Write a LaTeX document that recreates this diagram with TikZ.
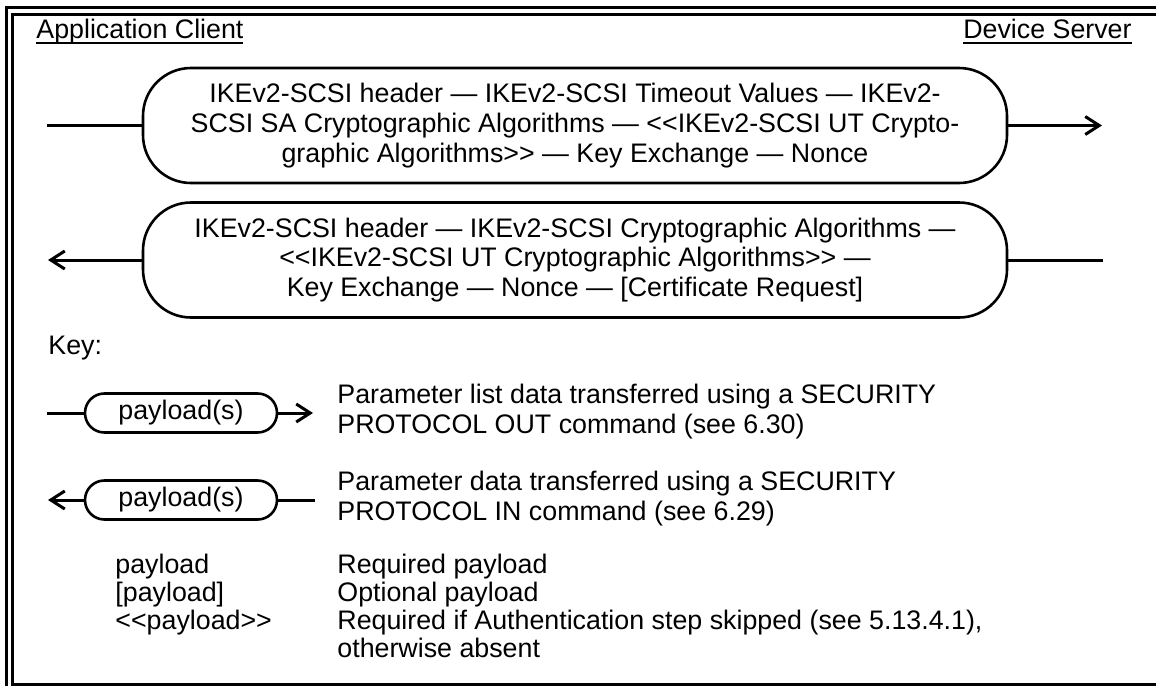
\documentclass[tikz,border=0pt]{standalone}
\usepackage{fontspec}
\setmainfont{Liberation Sans}
\usetikzlibrary{arrows.meta}
\newcommand\ulbox[1]{\setbox0\hbox{#1}\rlap{\rule[-2.6pt]{\wd0}{1pt}}\box0}
\newcommand\dlt{<\kern0pt<}
\newcommand\dgt{>\kern0pt>}
\begin{document}
\begin{tikzpicture}[x=0.5pt,y=-0.5pt,
  every node/.style={inner sep=0pt, font=\fontsize{13.4}{14.8}\selectfont},
  frame/.style={line width=1.5pt},
  msgbox/.style={draw, line width=1.3pt, rounded corners=24pt, minimum width=432pt, minimum height=57.5pt, align=center},
  keybox/.style={draw, line width=1.3pt, rounded corners=9.7pt, minimum width=96pt, minimum height=19.5pt},
  conn/.style={line width=1.5pt},
  arr/.style={conn, -{Straight Barb[length=7pt,width=9pt]}},
  lbl/.style={anchor=base west},
]
\useasboundingbox (0,0) rectangle (1156,686);
% frame
\draw[frame] (6,686) -- (6,7) -- (1156,7);
\draw[frame] (1156,14) -- (12,14) -- (12,684) -- (1156,684);

\node[anchor=base west] (ac) at (36,38.5) {\ulbox{Application Client}};
\node[anchor=base east] (ds) at (1132,38.5) {\ulbox{Device Server}};

% message 1
\node[msgbox] (b1) at (575,125.5) {IKEv2-SCSI header — IKEv2-SCSI Timeout Values — IKEv2-\\
SCSI SA Cryptographic Algorithms — \dlt IKEv2-SCSI UT Crypto-\\
graphic Algorithms\dgt{} — Key Exchange — Nonce};
\coordinate (c1l) at (47,125.5);
\coordinate (c1r) at (1102,125.5);
\draw[conn] (c1l) -- (b1);
\draw[arr] (b1) -- (c1r);

% message 2
\node[msgbox] (b2) at (575,260) {IKEv2-SCSI header — IKEv2-SCSI Cryptographic Algorithms —\\
\dlt IKEv2-SCSI UT Cryptographic Algorithms\dgt{} —\\
Key Exchange — Nonce — [Certificate Request]};
\coordinate (c2l) at (48,260);
\coordinate (c2r) at (1103,260);
\draw[arr] (b2) -- (c2l);
\draw[conn] (c2r) -- (b2);

% key
\node[lbl] (key) at (48,354) {Key:};

\node[keybox] (k1) at (181,413) {payload(s)};
\coordinate (k1l) at (47,413);
\coordinate (k1r) at (313,413);
\draw[conn] (k1l) -- (k1);
\draw[arr] (k1) -- (k1r);
\node[lbl] (t1a) at (337,403) {Parameter list data transferred using a SECURITY};
\node[lbl] (t1b) at (337,433) {PROTOCOL OUT command (see 6.30)};

\node[keybox] (k2) at (181,500) {payload(s)};
\coordinate (k2l) at (48,500);
\coordinate (k2r) at (315,500);
\draw[arr] (k2) -- (k2l);
\draw[conn] (k2r) -- (k2);
\node[lbl] (t2a) at (337,490) {Parameter data transferred using a SECURITY};
\node[lbl] (t2b) at (337,520) {PROTOCOL IN command (see 6.29)};

\node[lbl] (p1) at (115,573) {payload};
\node[lbl] (d1) at (337,573) {Required payload};
\node[lbl] (p2) at (115,601) {[payload]};
\node[lbl] (d2) at (337,601) {Optional payload};
\node[lbl] (p3) at (115,629) {\dlt payload\dgt};
\node[lbl] (d3) at (337,629) {Required if Authentication step skipped (see 5.13.4.1),};
\node[lbl] (d4) at (337,657) {otherwise absent};
\end{tikzpicture}
\end{document}
